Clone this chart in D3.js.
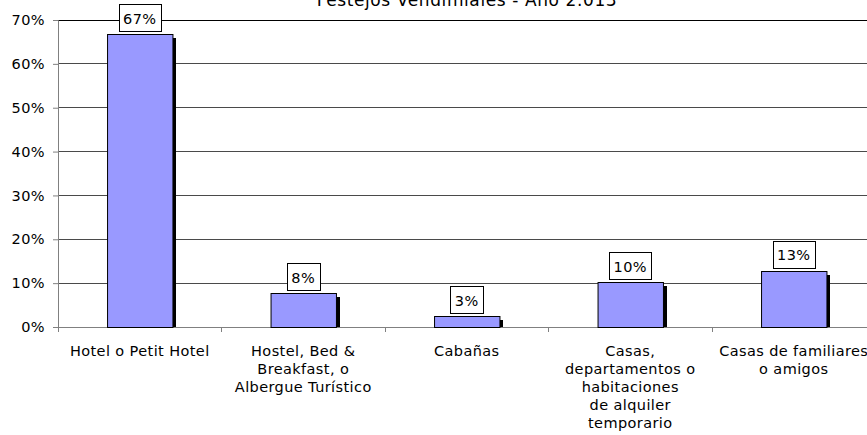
<!DOCTYPE html>
<html><head><meta charset="utf-8">
<script src="https://cdn.jsdelivr.net/npm/d3@7"></script>
<style>body{margin:0;background:#fff}svg{display:block}text{font-family:"DejaVu Sans",Verdana,sans-serif;letter-spacing:0.4px}</style>
</head><body><svg id="c" width="867" height="435"></svg>
<script>
const title = "Festejos Vendimiales - Año 2.013";
const categories = ["Hotel o Petit Hotel","Hostel, Bed & Breakfast, o Albergue Turístico","Cabañas","Casas, departamentos o habitaciones de alquiler temporario","Casas de familiares o amigos"];
const categoryLines = [["Hotel o Petit Hotel"],["Hostel, Bed &","Breakfast, o","Albergue Turístico"],["Cabañas"],["Casas,","departamentos o","habitaciones","de alquiler","temporario"],["Casas de familiares","o amigos"]];
const values = [0.668, 0.077, 0.025, 0.102, 0.128];
const valueLabels = ["67%","8%","3%","10%","13%"];
const yTicks = [0,0.1,0.2,0.3,0.4,0.5,0.6,0.7];

const svg = d3.select("#c");
const L = 58, R = 875.5, T = 20, B = 327;
const fs = 14.5;
const x = d3.scaleBand().domain(categories).range([L,R]).paddingInner(0.6).paddingOuter(0.3);
const y = d3.scaleLinear().domain([0,0.7]).range([B,T]);

// gridlines
svg.append("g").selectAll("line").data(yTicks.filter(d=>d>0)).join("line")
  .attr("x1",L).attr("x2",R).attr("y1",d=>y(d)).attr("y2",d=>y(d))
  .attr("stroke",d=>d===0.7?"#000":"#4a4a4a").attr("stroke-width",1).attr("shape-rendering","crispEdges");

// y axis
const ya = svg.append("g").attr("transform",`translate(${L},0)`)
  .call(d3.axisLeft(y).tickValues(yTicks).tickFormat(d3.format(".0%")).tickSize(5).tickPadding(8));
ya.select(".domain").attr("stroke","#808080");
ya.selectAll(".tick line").attr("stroke","#808080");
ya.selectAll("text").attr("font-size",fs).attr("fill","#000").style("font-family",'"DejaVu Sans",sans-serif');

// x axis
const step = x.step();
const bounds = d3.range(categories.length+1).map(i=>L+i*step);
svg.append("line").attr("x1",L).attr("x2",R).attr("y1",B).attr("y2",B).attr("stroke","#808080").attr("shape-rendering","crispEdges");
svg.append("g").selectAll("line").data(bounds).join("line")
  .attr("x1",d=>d).attr("x2",d=>d).attr("y1",B).attr("y2",B+5).attr("stroke","#808080").attr("shape-rendering","crispEdges");

// bars
const bars = svg.append("g");
const data = categories.map((c,i)=>({c,v:values[i],lab:valueLabels[i],lines:categoryLines[i]}));
bars.selectAll("rect.sh").data(data).join("rect").attr("class","sh")
  .attr("x",d=>x(d.c)+4).attr("y",d=>y(d.v)+4).attr("width",x.bandwidth())
  .attr("height",d=>B-y(d.v)-4).attr("fill","#000").attr("shape-rendering","crispEdges");
bars.selectAll("rect.b").data(data).join("rect").attr("class","b")
  .attr("x",d=>x(d.c)+0.5).attr("y",d=>Math.round(y(d.v))+0.5).attr("width",x.bandwidth())
  .attr("height",d=>B-Math.round(y(d.v))).attr("fill","#9999FF").attr("stroke","#000").attr("stroke-width",1);

// value labels
const lg = svg.append("g");
data.forEach(d=>{
  const cx = x(d.c)+x.bandwidth()/2;
  const top = y(d.v);
  const g = lg.append("g");
  const t = g.append("text").attr("x",cx).attr("y",top-2-14+5.5).attr("text-anchor","middle")
    .attr("font-size",fs).attr("fill","#000").text(d.lab);
  const w = t.node().getComputedTextLength()+9;
  g.insert("rect","text").attr("x",Math.round(cx-w/2)+0.5).attr("y",Math.round(top-2-28)+0.5)
    .attr("width",Math.round(w)).attr("height",27).attr("fill","#fff").attr("stroke","#000");
});

// category labels
const cl = svg.append("g");
data.forEach(d=>{
  const cx = x(d.c)+x.bandwidth()/2;
  cl.append("text").attr("text-anchor","middle").attr("font-size",fs).attr("fill","#000")
    .selectAll("tspan").data(d.lines).join("tspan").attr("x",cx).attr("y",(l,i)=>356+i*18).text(l=>l);
});

// title
svg.append("text").attr("x",467).attr("y",6).attr("text-anchor","middle").attr("font-size",17)
  .style("letter-spacing","0.6px").attr("fill","#000").text(title);
</script></body></html>
